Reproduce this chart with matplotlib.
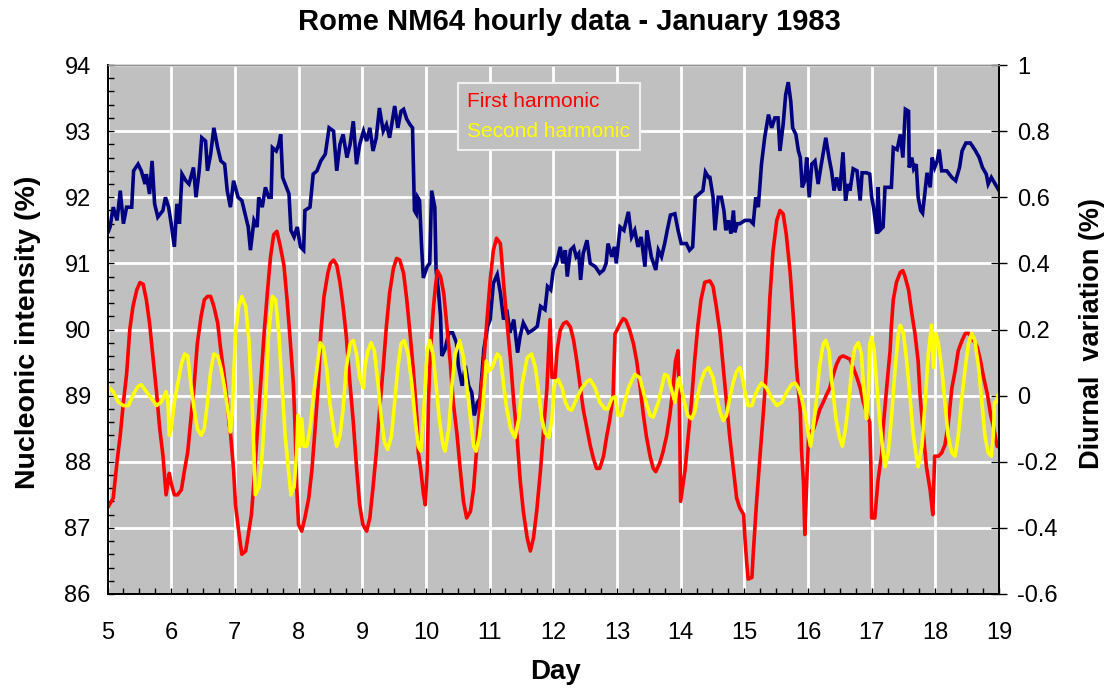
import matplotlib
matplotlib.use("Agg")
import matplotlib.pyplot as plt
from matplotlib.ticker import MultipleLocator

# ---------------- data ----------------
nm_day = [5.00, 5.04, 5.09, 5.15, 5.20, 5.25, 5.30, 5.38, 5.41, 5.48, 5.53, 5.59, 5.61, 5.66, 5.70, 5.74,
          5.79, 5.87, 5.91, 5.96, 6.00, 6.05, 6.09, 6.13, 6.17, 6.23, 6.28, 6.35, 6.39, 6.44, 6.48, 6.54,
          6.57, 6.62, 6.67, 6.73, 6.78, 6.84, 6.88, 6.93, 6.98, 7.05, 7.11, 7.16, 7.21, 7.245, 7.30, 7.35,
          7.375, 7.43, 7.48, 7.53, 7.57, 7.59, 7.65, 7.69, 7.72, 7.75, 7.81, 7.85, 7.88, 7.93, 7.98, 8.03,
          8.08, 8.10, 8.18, 8.23, 8.29, 8.35, 8.42, 8.48, 8.55, 8.60, 8.65, 8.70, 8.76, 8.81, 8.86, 8.91,
          8.96, 9.02, 9.07, 9.12, 9.17, 9.22, 9.27, 9.33, 9.38, 9.43, 9.51, 9.56, 9.61, 9.65, 9.70, 9.75,
          9.79, 9.82, 9.85, 9.87, 9.90, 9.93, 9.96, 10.02, 10.06, 10.09, 10.14, 10.16, 10.20, 10.23, 10.25,
          10.30, 10.36, 10.42, 10.48, 10.51, 10.57, 10.62, 10.67, 10.72, 10.76, 10.81, 10.85, 10.91, 10.97,
          11.01, 11.06, 11.12, 11.17, 11.22, 11.27, 11.32, 11.38, 11.44, 11.48, 11.53, 11.61, 11.69, 11.75,
          11.80, 11.87, 11.91, 11.96, 12.00, 12.05, 12.11, 12.15, 12.19, 12.22, 12.27, 12.32, 12.36, 12.40,
          12.43, 12.47, 12.53, 12.58, 12.66, 12.73, 12.79, 12.83, 12.86, 12.92, 12.96, 12.99, 13.05, 13.11,
          13.18, 13.23, 13.28, 13.33, 13.38, 13.44, 13.47, 13.54, 13.61, 13.65, 13.70, 13.75, 13.79, 13.84,
          13.91, 13.96, 14.01, 14.09, 14.14, 14.19, 14.23, 14.29, 14.35, 14.39, 14.44, 14.46, 14.51, 14.54,
          14.59, 14.64, 14.68, 14.71, 14.75, 14.79, 14.83, 14.85, 14.89, 14.93, 15.01, 15.09, 15.14, 15.18,
          15.22, 15.27, 15.32, 15.38, 15.43, 15.48, 15.53, 15.56, 15.61, 15.65, 15.69, 15.73, 15.76, 15.81,
          15.85, 15.88, 15.91, 15.95, 15.98, 16.02, 16.06, 16.11, 16.16, 16.21, 16.28, 16.33, 16.37, 16.41,
          16.45, 16.50, 16.55, 16.59, 16.63, 16.66, 16.71, 16.77, 16.82, 16.85, 16.92, 16.97, 17.00, 17.03,
          17.05, 17.08, 17.10, 17.13, 17.18, 17.21, 17.31, 17.34, 17.40, 17.45, 17.49, 17.53, 17.58, 17.59,
          17.63, 17.66, 17.70, 17.73, 17.77, 17.80, 17.84, 17.87, 17.92, 17.95, 17.99, 18.03, 18.06, 18.10,
          18.18, 18.26, 18.32, 18.38, 18.42, 18.48, 18.55, 18.62, 18.69, 18.74, 18.80, 18.83, 18.88, 18.94,
          19.00]
nm_val = [91.45, 91.55, 91.85, 91.65, 92.10, 91.60, 91.85, 91.85, 92.40, 92.50, 92.40, 92.20, 92.35, 92.05,
          92.55, 91.90, 91.70, 91.80, 92.00, 91.85, 91.60, 91.25, 91.90, 91.60, 92.35, 92.25, 92.20, 92.45,
          92.00, 92.40, 92.90, 92.85, 92.40, 92.65, 93.05, 92.75, 92.55, 92.50, 92.10, 91.85, 92.25, 92.00,
          91.95, 91.75, 91.55, 91.20, 91.65, 91.55, 92.00, 91.85, 92.15, 92.00, 92.00, 92.75, 92.70, 92.80,
          92.95, 92.30, 92.15, 92.05, 91.50, 91.40, 91.55, 91.25, 91.20, 91.80, 91.85, 92.35, 92.40, 92.55,
          92.65, 93.05, 93.00, 92.40, 92.80, 92.95, 92.60, 92.80, 93.15, 92.50, 92.80, 93.00, 92.85, 93.05,
          92.70, 92.90, 93.35, 93.00, 93.10, 92.90, 93.38, 93.05, 93.30, 93.33, 93.18, 93.10, 93.05, 91.80,
          91.75, 92.00, 91.95, 91.30, 90.78, 90.95, 91.00, 92.10, 91.85, 90.90, 90.55, 90.20, 89.60, 89.70,
          89.95, 89.95, 89.80, 89.45, 89.15, 89.45, 89.15, 89.05, 88.70, 88.90, 88.95, 89.70, 90.05, 90.15,
          90.70, 90.83, 90.55, 90.15, 90.30, 89.95, 90.15, 89.65, 89.90, 90.10, 89.95, 90.00, 90.05, 90.35,
          90.30, 90.65, 90.60, 90.90, 91.00, 91.25, 91.00, 91.20, 90.80, 91.20, 91.25, 91.10, 91.15, 90.75,
          91.15, 91.35, 91.00, 90.95, 90.85, 90.90, 91.00, 91.30, 91.10, 91.25, 91.00, 91.55, 91.50, 91.78,
          91.40, 91.50, 91.25, 91.40, 90.95, 91.50, 91.10, 90.90, 91.20, 91.10, 91.30, 91.50, 91.73, 91.75,
          91.50, 91.30, 91.30, 91.20, 91.25, 92.00, 92.05, 92.10, 92.38, 92.30, 92.30, 92.00, 91.50, 92.00,
          92.00, 91.80, 91.50, 91.65, 91.45, 91.80, 91.47, 91.60, 91.60, 91.65, 91.65, 91.60, 92.00, 91.85,
          92.50, 92.90, 93.25, 93.05, 93.20, 93.20, 92.70, 93.10, 93.55, 93.74, 93.45, 93.05, 92.95, 92.70,
          92.60, 92.15, 92.25, 92.60, 92.00, 92.50, 92.55, 92.20, 92.50, 92.90, 92.60, 92.40, 92.10, 92.30,
          92.10, 92.68, 91.95, 92.20, 92.10, 92.43, 92.40, 91.95, 92.37, 92.37, 92.35, 92.00, 91.85, 91.70,
          91.45, 92.15, 91.50, 91.55, 92.15, 92.15, 92.75, 92.72, 92.95, 92.60, 93.33, 93.30, 92.45, 92.60,
          92.43, 92.50, 92.00, 91.80, 91.76, 92.10, 92.37, 92.15, 92.60, 92.45, 92.55, 92.72, 92.40, 92.40,
          92.30, 92.25, 92.45, 92.70, 92.82, 92.82, 92.72, 92.60, 92.45, 92.35, 92.20, 92.30, 92.20, 92.10]

h1_day = [5.00, 5.09, 5.15, 5.20, 5.25, 5.30, 5.35, 5.40, 5.46, 5.51, 5.56, 5.61, 5.66, 5.71, 5.77, 5.82,
          5.87, 5.92, 5.97, 6.00, 6.05, 6.10, 6.16, 6.21, 6.26, 6.31, 6.36, 6.41, 6.47, 6.52, 6.57, 6.62,
          6.67, 6.73, 6.78, 6.83, 6.88, 6.91, 6.93, 6.98, 7.01, 7.06, 7.11, 7.17, 7.22, 7.26, 7.30, 7.35,
          7.40, 7.46, 7.51, 7.56, 7.61, 7.66, 7.71, 7.77, 7.82, 7.87, 7.92, 7.95, 7.97, 8.00, 8.05, 8.10,
          8.16, 8.21, 8.26, 8.31, 8.35, 8.40, 8.46, 8.50, 8.55, 8.60, 8.65, 8.70, 8.75, 8.80, 8.86, 8.91,
          8.96, 9.01, 9.07, 9.12, 9.17, 9.22, 9.27, 9.33, 9.38, 9.43, 9.49, 9.54, 9.59, 9.65, 9.70, 9.75,
          9.80, 9.86, 9.88, 9.92, 9.96, 9.99, 10.02, 10.04, 10.07, 10.12, 10.15, 10.18, 10.23, 10.28, 10.33,
          10.38, 10.43, 10.49, 10.54, 10.59, 10.64, 10.70, 10.75, 10.80, 10.85, 10.91, 10.96, 11.01, 11.06,
          11.11, 11.17, 11.19, 11.22, 11.27, 11.33, 11.38, 11.43, 11.48, 11.53, 11.59, 11.64, 11.69, 11.74,
          11.80, 11.85, 11.90, 11.95, 11.98, 12.03, 12.06, 12.11, 12.16, 12.21, 12.27, 12.32, 12.37, 12.42,
          12.47, 12.53, 12.58, 12.63, 12.68, 12.73, 12.79, 12.84, 12.89, 12.94, 12.97, 13.00, 13.05, 13.10,
          13.14, 13.20, 13.26, 13.31, 13.36, 13.41, 13.46, 13.52, 13.57, 13.61, 13.67, 13.72, 13.78, 13.83,
          13.88, 13.92, 13.96, 13.98, 14.00, 14.04, 14.07, 14.12, 14.17, 14.22, 14.27, 14.32, 14.38, 14.46,
          14.51, 14.56, 14.62, 14.67, 14.72, 14.77, 14.83, 14.88, 14.93, 14.99, 15.01, 15.04, 15.06, 15.12,
          15.14, 15.19, 15.24, 15.30, 15.35, 15.40, 15.45, 15.51, 15.56, 15.61, 15.66, 15.72, 15.77, 15.82,
          15.88, 15.90, 15.93, 15.95, 15.98, 16.01, 16.04, 16.09, 16.14, 16.19, 16.24, 16.29, 16.34, 16.40,
          16.45, 16.50, 16.55, 16.61, 16.66, 16.71, 16.77, 16.82, 16.87, 16.92, 16.95, 16.97, 16.99, 17.00,
          17.05, 17.10, 17.16, 17.18, 17.24, 17.29, 17.31, 17.34, 17.39, 17.45, 17.49, 17.52, 17.58, 17.63,
          17.68, 17.73, 17.76, 17.81, 17.86, 17.92, 17.96, 17.99, 18.05, 18.10, 18.15, 18.20, 18.26, 18.31,
          18.36, 18.42, 18.47, 18.53, 18.60, 18.66, 18.71, 18.76, 18.82, 18.87, 18.92, 18.97, 19.00]
h1_val = [-0.34, -0.31, -0.20, -0.12, -0.02, 0.065, 0.20, 0.27, 0.32, 0.342, 0.337, 0.29, 0.22, 0.125, 0.01,
          -0.10, -0.18, -0.30, -0.235, -0.265, -0.30, -0.30, -0.285, -0.225, -0.17, -0.07, 0.03, 0.157, 0.24,
          0.29, 0.30, 0.30, 0.27, 0.22, 0.136, 0.065, -0.02, -0.085, -0.11, -0.225, -0.33, -0.41, -0.48, -0.47,
          -0.41, -0.36, -0.26, -0.12, 0.02, 0.19, 0.31, 0.42, 0.487, 0.497, 0.455, 0.395, 0.29, 0.165, 0.033,
          -0.12, -0.27, -0.39, -0.41, -0.37, -0.31, -0.225, -0.10, 0.033, 0.19, 0.30, 0.37, 0.40, 0.41, 0.395,
          0.343, 0.27, 0.18, 0.054, -0.08, -0.215, -0.33, -0.39, -0.41, -0.37, -0.277, -0.175, -0.05, 0.085,
          0.21, 0.31, 0.385, 0.415, 0.41, 0.37, 0.29, 0.19, 0.085, -0.07, -0.17, -0.225, -0.295, -0.33, -0.225,
          -0.02, 0.135, 0.27, 0.33, 0.378, 0.36, 0.31, 0.21, 0.105, -0.02, -0.12, -0.225, -0.32, -0.37, -0.35,
          -0.28, -0.155, -0.02, 0.105, 0.23, 0.35, 0.44, 0.476, 0.46, 0.415, 0.34, 0.23, 0.105, -0.02, -0.12,
          -0.255, -0.35, -0.43, -0.47, -0.43, -0.35, -0.225, -0.10, 0.02, 0.23, 0.055, 0.055, 0.136, 0.198,
          0.218, 0.223, 0.207, 0.167, 0.105, 0.033, -0.04, -0.10, -0.15, -0.19, -0.22, -0.22, -0.183, -0.122,
          -0.07, 0.002, 0.187, 0.198, 0.218, 0.233, 0.228, 0.198, 0.157, 0.105, 0.033, -0.05, -0.12, -0.183,
          -0.22, -0.23, -0.205, -0.173, -0.122, -0.06, 0.022, 0.105, 0.136, -0.02, -0.32, -0.265, -0.225,
          -0.122, -0.02, 0.105, 0.21, 0.29, 0.343, 0.347, 0.33, 0.27, 0.188, 0.085, -0.02, -0.122, -0.225,
          -0.31, -0.34, -0.36, -0.43, -0.51, -0.555, -0.55, -0.48, -0.33, -0.20, -0.05, 0.085, 0.29, 0.435,
          0.53, 0.56, 0.55, 0.487, 0.373, 0.24, 0.085, -0.05, -0.17, -0.265, -0.42, -0.265, -0.122, -0.11,
          -0.10, -0.07, -0.04, -0.02, 0.002, 0.022, 0.064, 0.095, 0.115, 0.12, 0.115, 0.11, 0.085, 0.054,
          0.023, -0.02, -0.05, -0.07, -0.08, -0.225, -0.37, -0.37, -0.256, -0.173, -0.10, 0.033, 0.136, 0.21,
          0.29, 0.343, 0.373, 0.378, 0.363, 0.32, 0.25, 0.188, 0.105, 0.002, -0.11, -0.215, -0.287, -0.36,
          -0.183, -0.183, -0.173, -0.15, -0.09, 0.023, 0.074, 0.136, 0.167, 0.188, 0.188, 0.167, 0.146, 0.105,
          0.054, 0.002, -0.06, -0.10, -0.153, -0.155]

h2_day = [5.00, 5.09, 5.17, 5.25, 5.33, 5.40, 5.48, 5.53, 5.61, 5.69, 5.77, 5.84, 5.92, 5.95, 5.97, 6.00,
          6.05, 6.10, 6.16, 6.21, 6.26, 6.31, 6.36, 6.41, 6.47, 6.52, 6.57, 6.62, 6.67, 6.73, 6.78, 6.83,
          6.88, 6.91, 6.93, 6.96, 6.98, 7.01, 7.06, 7.11, 7.17, 7.22, 7.27, 7.30, 7.32, 7.38, 7.43, 7.48,
          7.53, 7.59, 7.64, 7.69, 7.74, 7.79, 7.88, 7.93, 7.97, 7.99, 8.02, 8.05, 8.08, 8.13, 8.18, 8.23,
          8.29, 8.34, 8.39, 8.44, 8.49, 8.55, 8.60, 8.65, 8.70, 8.75, 8.81, 8.86, 8.91, 8.96, 9.02, 9.04,
          9.09, 9.14, 9.19, 9.25, 9.30, 9.35, 9.40, 9.46, 9.51, 9.56, 9.61, 9.66, 9.72, 9.78, 9.83, 9.88,
          9.92, 9.96, 9.99, 10.02, 10.06, 10.11, 10.16, 10.21, 10.27, 10.30, 10.36, 10.41, 10.46, 10.53,
          10.59, 10.64, 10.70, 10.75, 10.79, 10.84, 10.89, 10.95, 10.98, 11.04, 11.12, 11.17, 11.22, 11.27,
          11.33, 11.40, 11.46, 11.51, 11.59, 11.66, 11.72, 11.77, 11.82, 11.87, 11.93, 11.98, 12.01, 12.03,
          12.08, 12.14, 12.19, 12.24, 12.29, 12.37, 12.45, 12.53, 12.58, 12.66, 12.73, 12.81, 12.86, 12.92,
          12.97, 13.02, 13.07, 13.11, 13.18, 13.28, 13.36, 13.44, 13.52, 13.57, 13.65, 13.70, 13.75, 13.80,
          13.85, 13.91, 13.96, 13.98, 14.01, 14.06, 14.11, 14.17, 14.22, 14.27, 14.32, 14.38, 14.44, 14.51,
          14.56, 14.62, 14.67, 14.72, 14.77, 14.83, 14.88, 14.93, 14.96, 15.01, 15.06, 15.12, 15.17, 15.22,
          15.27, 15.35, 15.43, 15.51, 15.59, 15.67, 15.74, 15.80, 15.85, 15.90, 15.95, 16.01, 16.04, 16.08,
          16.13, 16.18, 16.24, 16.28, 16.33, 16.38, 16.44, 16.49, 16.54, 16.59, 16.65, 16.70, 16.74, 16.79,
          16.84, 16.87, 16.90, 16.92, 16.95, 16.97, 17.00, 17.04, 17.08, 17.13, 17.18, 17.21, 17.26, 17.31,
          17.37, 17.42, 17.45, 17.50, 17.55, 17.60, 17.65, 17.71, 17.73, 17.79, 17.84, 17.89, 17.94, 17.97,
          18.01, 18.05, 18.10, 18.15, 18.20, 18.26, 18.31, 18.36, 18.41, 18.47, 18.52, 18.57, 18.62, 18.68,
          18.73, 18.78, 18.83, 18.88, 18.91, 18.93, 18.96, 18.98]
h2_val = [0.028, 0.012, -0.02, -0.03, -0.03, 0.002, 0.028, 0.033, 0.012, -0.008, -0.03, -0.02, 0.012, -0.02,
          -0.12, -0.10, -0.02, 0.033, 0.095, 0.126, 0.12, 0.033, -0.04, -0.10, -0.12, -0.10, -0.02, 0.074,
          0.126, 0.12, 0.085, 0.033, -0.03, -0.07, -0.11, -0.05, 0.054, 0.188, 0.27, 0.30, 0.27, 0.167, -0.02,
          -0.173, -0.30, -0.277, -0.173, -0.02, 0.188, 0.30, 0.29, 0.188, 0.033, -0.122, -0.30, -0.277, -0.173,
          -0.06, -0.153, -0.07, -0.153, -0.153, -0.10, -0.008, 0.085, 0.16, 0.146, 0.085, -0.02, -0.10, -0.153,
          -0.122, -0.04, 0.085, 0.157, 0.167, 0.126, 0.054, 0.023, 0.085, 0.136, 0.16, 0.136, 0.033, -0.07,
          -0.142, -0.163, -0.122, -0.02, 0.085, 0.157, 0.167, 0.126, 0.033, -0.07, -0.153, -0.168, -0.07,
          0.033, 0.136, 0.167, 0.126, 0.033, -0.07, -0.153, -0.168, -0.10, 0.033, 0.126, 0.167, 0.115, 0.033,
          -0.07, -0.153, -0.168, -0.122, -0.04, 0.105, 0.074, 0.085, 0.126, 0.115, 0.033, -0.04, -0.10, -0.127,
          -0.07, 0.033, 0.115, 0.126, 0.085, 0.012, -0.07, -0.112, -0.127, -0.07, 0.02, 0.043, 0.048, 0.023,
          -0.02, -0.04, -0.044, -0.008, 0.023, 0.043, 0.048, 0.023, -0.02, -0.04, -0.04, -0.008, -0.003, -0.06,
          -0.06, -0.03, 0.023, 0.064, 0.054, -0.008, -0.06, -0.065, -0.02, 0.023, 0.064, 0.059, 0.023, -0.02,
          0.043, 0.054, 0.023, -0.02, -0.06, -0.07, -0.05, 0.002, 0.043, 0.074, 0.085, 0.054, 0.002, -0.05,
          -0.075, -0.06, -0.008, 0.043, 0.074, 0.085, 0.064, 0.012, -0.03, -0.03, 0.002, 0.023, 0.038, 0.023,
          -0.008, -0.03, -0.02, 0.012, 0.033, 0.038, 0.023, -0.008, -0.05, -0.122, -0.153, -0.10, -0.02, 0.085,
          0.157, 0.167, 0.136, 0.033, -0.07, -0.122, -0.153, -0.10, 0.002, 0.105, 0.146, 0.16, 0.126, 0.033,
          -0.02, -0.07, 0.012, 0.157, 0.177, 0.136, 0.033, -0.08, -0.173, -0.215, -0.173, -0.07, 0.085, 0.188,
          0.213, 0.188, 0.105, 0.002, -0.112, -0.194, -0.215, -0.153, -0.02, 0.126, 0.213, 0.085, 0.188, 0.157,
          0.085, -0.02, -0.122, -0.173, -0.183, -0.122, -0.02, 0.085, 0.157, 0.188, 0.167, 0.085, -0.02, -0.122,
          -0.173, -0.183, -0.122, -0.02, -0.02, 0.0]

x_ticks = list(range(5, 20))
left_ticks = list(range(86, 95))
right_ticks = [-0.6, -0.4, -0.2, 0, 0.2, 0.4, 0.6, 0.8, 1]
right_labels = ["-0.6", "-0.4", "-0.2", "0", "0.2", "0.4", "0.6", "0.8", "1"]
series_names = ["First harmonic", "Second harmonic"]

# ---------------- figure ----------------
W, H = 1111, 693
fig = plt.figure(figsize=(W / 100, H / 100), dpi=100)
fig.patch.set_facecolor("white")
L, R, T, B = 107.5, 999, 65, 594
ax = fig.add_axes([L / W, 1 - B / H, (R - L) / W, (B - T) / H])
ax.set_facecolor("#C0C0C0")
ax2 = ax.twinx()

ax.set_xlim(5, 19)
ax.set_ylim(86, 94)
ax2.set_ylim(-0.6, 1.0)

ax.set_xticks(x_ticks)
ax.set_yticks(left_ticks)
ax.xaxis.set_minor_locator(MultipleLocator(0.25))
ax.yaxis.set_minor_locator(MultipleLocator(0.2))
ax2.set_yticks(right_ticks)
ax2.set_yticklabels(right_labels)

ax.grid(True, which="major", color="white", linewidth=2.0)
ax.set_axisbelow(True)

ax.plot(nm_day, nm_val, color="#000080", linewidth=2.6, solid_joinstyle="miter")
l1, = ax2.plot(h1_day, h1_val, color="#FF0000", linewidth=2.6, label=series_names[0])
l2, = ax2.plot(h2_day, h2_val, color="#FFFF00", linewidth=2.6, label=series_names[1])

for a in (ax, ax2):
    for s in a.spines.values():
        s.set_linewidth(1.3)
        s.set_color("black")
    a.spines["top"].set_color("#909090")
    a.spines["top"].set_linewidth(1.0)

ax.tick_params(axis="both", which="both", direction="in", length=4, width=1.0, color="black",
               top=False, right=False)
ax.tick_params(axis="x", which="major", pad=20, labelsize=17)
ax.tick_params(axis="y", which="major", pad=12, labelsize=17)
ax2.tick_params(axis="y", which="major", direction="inout", length=12, width=1.0, pad=7, labelsize=17)
ax2.tick_params(axis="y", which="minor", right=False)
for lab in ax.get_xticklabels() + ax.get_yticklabels() + ax2.get_yticklabels():
    lab.set_fontfamily("Liberation Sans")

# labels
bold = dict(family="Liberation Sans", weight="bold")
fig.text(569 / W, 1 - 22 / H, "Rome NM64 hourly data - January 1983", ha="center", va="center",
         fontsize=21, **bold)
fig.text(28 / W, 1 - 332 / H, "Nucleonic intensity (%)", ha="center", va="center", rotation=90,
         fontsize=20.5, **bold)
fig.text(1092 / W, 1 - 333 / H, "Diurnal  variation (%)", ha="center", va="center", rotation=90,
         fontsize=19.5, **bold)
fig.text(555 / W, 1 - 672 / H, "Day", ha="center", va="center", fontsize=20, **bold)

leg = ax2.legend(handles=[l1, l2], loc="upper left", bbox_to_anchor=(458 / W, 1 - 83 / H),
                 bbox_transform=fig.transFigure, borderaxespad=0, handlelength=0, handletextpad=0,
                 labelcolor="linecolor", frameon=True, fancybox=False,
                 borderpad=0.45, labelspacing=0.5, prop={"family": "Liberation Sans", "size": 15})
leg.get_frame().set_facecolor("#C0C0C0")
leg.get_frame().set_edgecolor("#F0F0F0")
leg.get_frame().set_linewidth(1.5)
leg.get_frame().set_alpha(1)
for h in leg.legend_handles:
    h.set_visible(False)

fig.savefig("out.png", dpi=100, facecolor="white")
